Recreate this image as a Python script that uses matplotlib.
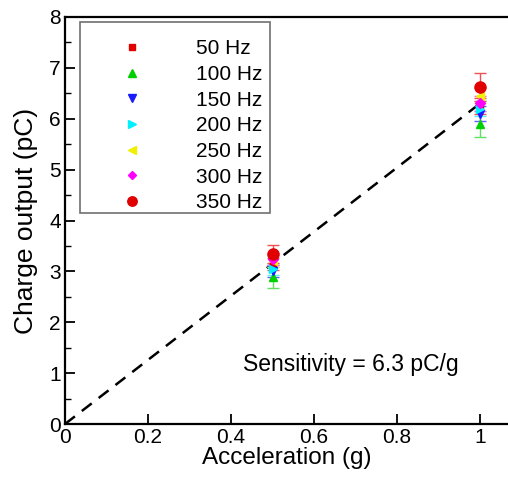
import matplotlib
matplotlib.use("Agg")
import matplotlib.pyplot as plt
from matplotlib.patches import Rectangle
import numpy as np

plt.rcParams['font.family'] = ['Liberation Sans', 'DejaVu Sans']

accel = [0.5, 1.0]
labels = ["50 Hz", "100 Hz", "150 Hz", "200 Hz", "250 Hz", "300 Hz", "350 Hz"]
charge = {
    "50 Hz":  [3.15, 6.25],
    "100 Hz": [2.88, 5.90],
    "150 Hz": [3.00, 6.10],
    "200 Hz": [3.05, 6.20],
    "250 Hz": [3.20, 6.45],
    "300 Hz": [3.25, 6.30],
    "350 Hz": [3.34, 6.62],
}
errors = {
    "50 Hz":  [0.12, 0.15],
    "100 Hz": [0.20, 0.25],
    "150 Hz": [0.12, 0.15],
    "200 Hz": [0.12, 0.15],
    "250 Hz": [0.12, 0.15],
    "300 Hz": [0.12, 0.15],
    "350 Hz": [0.18, 0.28],
}
sensitivity = 6.3
fit_x = [0.0, 1.0]

colors = ["#e00000", "#00d000", "#1a1aff", "#00f0ff", "#f0f000", "#ff00ff", "#e00000"]
ecolors = ["#f05050", "#60e060", "#6060ff", "#60f0ff", "#f0f060", "#ff60ff", "#f05050"]
markers = ["s", "^", "v", ">", "<", "D", "o"]
msizes = [5, 6, 6, 6, 6, 5, 8]

fig = plt.figure(figsize=(5.08, 4.79), dpi=100)
W, H = 508, 479
x0, x1, ytop, ybot = 65, 508, 17, 424
ax = fig.add_axes([x0 / W, (H - ybot) / H, (x1 - x0) / W, (ybot - ytop) / H])

ax.plot(fit_x, [sensitivity * v for v in fit_x], linestyle=(0, (5, 3.5)),
        color="black", lw=1.8, zorder=1)

handles = []
for lab, c, ec, m, ms in zip(labels, colors, ecolors, markers, msizes):
    ax.errorbar(accel, charge[lab], yerr=errors[lab], fmt=m, color=c,
                ms=ms, mec=c, ecolor=ec, elinewidth=1.0, capsize=4,
                capthick=1.0, zorder=3, label=lab)
    handles.append(ax.plot([], [], linestyle="none", marker=m, color=c,
                           ms=ms * 0.85)[0])

ax.set_xlim(0, (x1 - x0) / 415.0)
ax.set_ylim(0, 8)
ax.set_xticks([0, 0.2, 0.4, 0.6, 0.8, 1.0])
ax.set_xticklabels(["0", "0.2", "0.4", "0.6", "0.8", "1"])
ax.set_yticks(range(0, 9))
ax.set_yticks(np.arange(0.5, 8, 1.0), minor=True)
ax.tick_params(axis="both", which="major", direction="in", length=7, width=1.3,
               labelsize=15, pad=3)
ax.tick_params(axis="y", which="minor", direction="in", length=4, width=1.0)
ax.spines["right"].set_visible(False)
for s in ["left", "bottom", "top"]:
    ax.spines[s].set_linewidth(1.6)

ax.set_xlabel("Acceleration (g)", fontsize=17.5, labelpad=0)
ax.set_ylabel("Charge output (pC)", fontsize=19, labelpad=8)

ax.text(0.689, 1.16, "Sensitivity = 6.3 pC/g", fontsize=16.5, ha="center", va="center")

# legend frame box
ax.add_patch(Rectangle((0.0339, 0.518), 0.4289, 0.470, transform=ax.transAxes,
                       facecolor="white", edgecolor="#707070", lw=1.2, zorder=4))
leg = ax.legend(handles, labels, loc="upper left", bbox_to_anchor=(0.034, 0.963),
                borderaxespad=0, frameon=False, fontsize=15, handletextpad=0.93,
                handlelength=4.29, borderpad=0.35, labelspacing=0.32)
leg.set_zorder(5)

fig.savefig("out.png", dpi=100)
